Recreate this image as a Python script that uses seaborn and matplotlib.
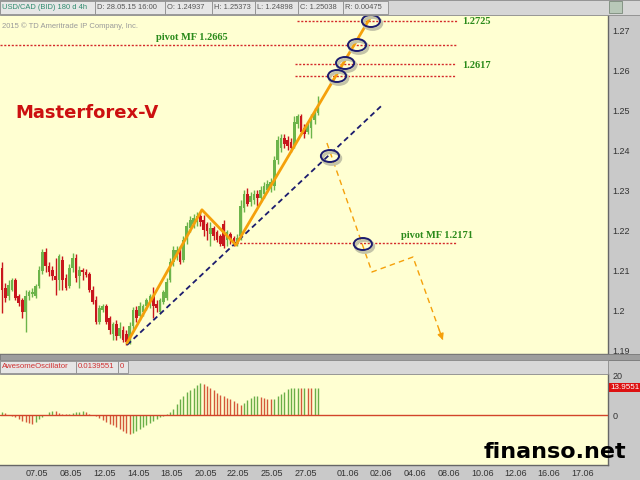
import matplotlib
matplotlib.use("Agg")
import matplotlib.pyplot as plt
import matplotlib.transforms as mtransforms
from matplotlib.patches import Rectangle, Ellipse
import seaborn as sns
import numpy as np
import pandas as pd

# USD/CAD 4h candles
opens = [1.2107, 1.2057, 1.2037, 1.2052, 1.2077, 1.2037, 1.2027, 1.1997, 1.2037, 1.2042,
         1.2037, 1.2062, 1.2100, 1.2147, 1.2112, 1.2102, 1.2087, 1.2077, 1.2127, 1.2082,
         1.2062, 1.2107, 1.2132, 1.2087, 1.2102, 1.2097, 1.2092, 1.2052, 1.2027, 1.1972,
         1.2002, 1.2012, 1.1982, 1.1942, 1.1967, 1.1937, 1.1952, 1.1942, 1.1922, 1.1962,
         1.2002, 1.1987, 1.1997, 1.2012, 1.2017, 1.2037, 1.2017, 1.1997, 1.2022, 1.2032,
         1.2077, 1.2122, 1.2137, 1.2152, 1.2127, 1.2182, 1.2207, 1.2217, 1.2222, 1.2237,
         1.2227, 1.2217, 1.2192, 1.2207, 1.2197, 1.2187, 1.2217, 1.2177, 1.2192, 1.2182,
         1.2172, 1.2187, 1.2257, 1.2292, 1.2272, 1.2277, 1.2292, 1.2282, 1.2292, 1.2302,
         1.2307, 1.2312, 1.2377, 1.2407, 1.2432, 1.2427, 1.2422, 1.2412, 1.2467, 1.2487,
         1.2457, 1.2447, 1.2457, 1.2477, 1.2494]
closes = [1.2052, 1.2032, 1.2065, 1.2077, 1.2032, 1.2020, 1.1997, 1.2037, 1.2047, 1.2047,
          1.2062, 1.2102, 1.2147, 1.2112, 1.2097, 1.2087, 1.2077, 1.2137, 1.2077, 1.2057,
          1.2107, 1.2132, 1.2082, 1.2102, 1.2097, 1.2090, 1.2052, 1.2022, 1.1972, 1.2007,
          1.2012, 1.1972, 1.1952, 1.1967, 1.1937, 1.1957, 1.1927, 1.1922, 1.1962, 1.2002,
          1.1982, 1.2012, 1.2012, 1.2027, 1.2037, 1.2012, 1.2007, 1.2027, 1.2047, 1.2072,
          1.2122, 1.2152, 1.2152, 1.2122, 1.2177, 1.2212, 1.2227, 1.2232, 1.2237, 1.2222,
          1.2202, 1.2200, 1.2207, 1.2187, 1.2177, 1.2167, 1.2162, 1.2197, 1.2177, 1.2167,
          1.2182, 1.2262, 1.2292, 1.2267, 1.2287, 1.2292, 1.2282, 1.2302, 1.2312, 1.2317,
          1.2322, 1.2377, 1.2427, 1.2432, 1.2417, 1.2412, 1.2407, 1.2472, 1.2487, 1.2447,
          1.2442, 1.2462, 1.2482, 1.2494, 1.2504]
highs = [1.2122, 1.2070, 1.2077, 1.2082, 1.2082, 1.2042, 1.2032, 1.2052, 1.2052, 1.2057,
         1.2067, 1.2112, 1.2155, 1.2157, 1.2122, 1.2112, 1.2132, 1.2142, 1.2137, 1.2092,
         1.2117, 1.2145, 1.2142, 1.2112, 1.2107, 1.2105, 1.2097, 1.2062, 1.2037, 1.2015,
         1.2017, 1.2017, 1.1987, 1.1972, 1.1977, 1.1972, 1.1962, 1.1952, 1.1972, 1.2010,
         1.2012, 1.2022, 1.2017, 1.2032, 1.2042, 1.2060, 1.2027, 1.2032, 1.2052, 1.2082,
         1.2132, 1.2162, 1.2162, 1.2162, 1.2187, 1.2222, 1.2237, 1.2242, 1.2247, 1.2247,
         1.2240, 1.2222, 1.2222, 1.2212, 1.2202, 1.2192, 1.2227, 1.2202, 1.2197, 1.2187,
         1.2192, 1.2277, 1.2302, 1.2307, 1.2297, 1.2302, 1.2302, 1.2312, 1.2322, 1.2327,
         1.2332, 1.2387, 1.2437, 1.2442, 1.2442, 1.2437, 1.2432, 1.2487, 1.2492, 1.2492,
         1.2467, 1.2472, 1.2492, 1.2507, 1.2537]
lows = [1.1995, 1.2022, 1.2027, 1.2050, 1.2027, 1.2012, 1.1982, 1.1947, 1.2027, 1.2035,
        1.2032, 1.2057, 1.2092, 1.2097, 1.2087, 1.2077, 1.2040, 1.2052, 1.2052, 1.2052,
        1.2057, 1.2097, 1.2072, 1.2057, 1.2077, 1.2085, 1.2047, 1.2017, 1.1967, 1.1967,
        1.1997, 1.1967, 1.1942, 1.1927, 1.1927, 1.1932, 1.1922, 1.1915, 1.1917, 1.1952,
        1.1972, 1.1977, 1.1987, 1.2002, 1.2007, 1.1982, 1.1997, 1.1992, 1.2017, 1.2027,
        1.2072, 1.2112, 1.2127, 1.2117, 1.2122, 1.2167, 1.2197, 1.2207, 1.2212, 1.2212,
        1.2187, 1.2177, 1.2162, 1.2177, 1.2172, 1.2162, 1.2157, 1.2162, 1.2167, 1.2162,
        1.2162, 1.2177, 1.2247, 1.2262, 1.2262, 1.2267, 1.2262, 1.2272, 1.2282, 1.2297,
        1.2297, 1.2302, 1.2367, 1.2397, 1.2407, 1.2402, 1.2397, 1.2407, 1.2457, 1.2442,
        1.2432, 1.2442, 1.2432, 1.2467, 1.2490]

# Awesome Oscillator (x1000)
ao = [1.5, 1.0, 0.2, -0.5, -1.2, -2.0, -3.0, -3.5, -4.2, -4.5,
      -3.5, -2.2, -1.0, 0.3, 1.5, 2.3, 2.0, 1.2, 0.8, 0.6,
      0.8, 1.0, 1.4, 1.8, 2.2, 1.8, 0.8, 0.2, -0.5, -1.5,
      -2.5, -3.4, -4.3, -5.2, -6.1, -7.0, -8.0, -9.0, -9.7, -9.2,
      -8.3, -7.3, -6.2, -5.2, -4.2, -3.2, -2.2, -1.2, -0.4, 0.5,
      1.5, 3.0, 5.5, 8.0, 10.0, 11.8, 13.0, 14.0, 15.2, 16.3,
      16.0, 15.0, 13.8, 12.6, 11.5, 10.5, 9.6, 8.8, 8.0, 7.0,
      6.0, 5.3, 6.3, 7.6, 8.8, 9.7, 10.0, 9.0, 8.6, 8.3,
      8.1, 8.4, 9.6, 10.8, 12.0, 13.2, 13.9, 14.1, 14.1, 14.0,
      14.0, 13.9, 13.8, 13.9, 13.9551]
ao_last = '13.9551'

date_labels = ['07.05', '08.05', '12.05', '14.05', '18.05', '20.05', '22.05', '25.05', '27.05',
               '01.06', '02.06', '04.06', '08.06', '10.06', '12.06', '16.06', '17.06']
date_pos = [10.4, 20.5, 30.4, 40.5, 50.6, 60.7, 70.2, 80.4, 90.5,
            103.0, 112.8, 122.9, 133.0, 142.9, 153.0, 162.8, 172.9]

price_ticks = [1.27, 1.26, 1.25, 1.24, 1.23, 1.22, 1.21, 1.20, 1.19]
price_labels = ['1.27', '1.26', '1.25', '1.24', '1.23', '1.22', '1.21', '1.2', '1.19']

# hand drawn analysis
zigzag_x = [37.2, 59.5, 69.6, 111.6]
zigzag_y = [1.1920, 1.2253, 1.2165, 1.2762]
trend_x = [37.2, 112.8]
trend_y = [1.1915, 1.2512]
proj_x = [96.7, 110.1, 122.3, 131.2]
proj_y = [1.2420, 1.20975, 1.2135, 1.19275]
pivot_levels = [1.2725, 1.2665, 1.2617, 1.2587, 1.2171]
circle_x = [109.8, 105.65, 102.1, 99.7, 97.6, 107.4]
circle_y = [1.2725, 1.2665, 1.2620, 1.25875, 1.23875, 1.21675]

header_texts = ['USD/CAD (BID) 180 d 4h', 'D: 28.05.15 16:00', 'O: 1.24937', 'H: 1.25373',
                'L: 1.24898', 'C: 1.25038', 'R: 0.00475']
osc_texts = ['AwesomeOscillator', '0.0139551', '0']

sns.set_style("white")
plt.rcParams['font.family'] = ['Liberation Sans', 'DejaVu Sans']

W, H = 640, 480
bg = '#ffffd2'
orange = '#f5a00a'
navy = '#1c1c6e'
dotred = '#d42a2a'
green_txt = '#2a8a1a'

fig = plt.figure(figsize=(6.4, 4.8), dpi=100, facecolor='#c9c9c9')


def fx(px):
    return px / W


def fy(py):
    return 1 - py / H


def box(x0, y0, x1, y1, fc, ec='none', lw=0.6, z=5):
    fig.add_artist(Rectangle((fx(x0), fy(y1)), (x1 - x0) / W, (y1 - y0) / H,
                             transform=fig.transFigure, fc=fc, ec=ec, lw=lw, zorder=z))


ax = fig.add_axes([0, fy(354), fx(608), (354 - 14) / H], facecolor=bg)
ax2 = fig.add_axes([0, fy(465), fx(608), (465 - 374) / H], facecolor=bg, sharex=ax)

# candles
df = pd.DataFrame({'x': np.arange(len(opens)), 'open': opens, 'high': highs,
                   'low': lows, 'close': closes})
up = df['close'] >= df['open']
ccol = np.where(up, '#6cb44a', '#c8161d')
ax.vlines(df['x'], df['low'], df['high'], colors=ccol, lw=1.0, zorder=2)
body_lo = df[['open', 'close']].min(axis=1)
body_h = (df['close'] - df['open']).abs().clip(lower=0.00014)
ax.bar(df['x'], body_h, bottom=body_lo, width=0.8, color=ccol, lw=0, zorder=3)

# pivot levels
dots = (0, (1.5, 1.2))
ax.hlines(pivot_levels[0], 87.8, 135.4, colors=dotred, lw=1, linestyles=dots, zorder=2)
ax.hlines(pivot_levels[1], -0.6, 135.4, colors=dotred, lw=1, linestyles=dots, zorder=2)
ax.hlines(pivot_levels[2], 87.2, 134.8, colors=dotred, lw=1, linestyles=dots, zorder=2)
ax.hlines(pivot_levels[3], 87.2, 134.8, colors=dotred, lw=1, linestyles=dots, zorder=2)
ax.hlines(pivot_levels[4], 69.6, 135.4, colors=dotred, lw=1, linestyles=dots, zorder=2)

serif = ['Liberation Serif', 'DejaVu Serif']
ax.text(56.4, 1.26825, 'pivot MF 1.2665', ha='center', va='center', color=green_txt,
        fontsize=7.5, fontweight='bold', family=serif)
ax.text(136.9, 1.2725, '1.2725', ha='left', va='center', color=green_txt,
        fontsize=7.5, fontweight='bold', family=serif)
ax.text(136.9, 1.2615, '1.2617', ha='left', va='center', color=green_txt,
        fontsize=7.5, fontweight='bold', family=serif)
ax.text(129.5, 1.21875, 'pivot MF 1.2171', ha='center', va='center', color=green_txt,
        fontsize=7.5, fontweight='bold', family=serif)

# trend line and zigzag
sns.lineplot(x=trend_x, y=trend_y, ax=ax, color=navy, lw=1.3, linestyle=(0, (3, 2)), zorder=4)
sns.lineplot(x=zigzag_x[:3], y=zigzag_y[:3], ax=ax, color=orange, lw=2, sort=False, zorder=4)
ax.annotate('', xy=(zigzag_x[3], zigzag_y[3]), xytext=(zigzag_x[2], zigzag_y[2]),
            arrowprops=dict(arrowstyle='-|>', color=orange, lw=2, mutation_scale=11,
                            shrinkA=0, shrinkB=0),
            annotation_clip=False, zorder=4)

# projected path
sns.lineplot(x=proj_x, y=proj_y, ax=ax, color=orange, lw=1, linestyle=(0, (4, 3)), sort=False, zorder=4)
ax.annotate('', xy=(proj_x[3], proj_y[3]),
            xytext=(proj_x[3] - 0.12 * (proj_x[3] - proj_x[2]), proj_y[3] - 0.12 * (proj_y[3] - proj_y[2])),
            arrowprops=dict(arrowstyle='-|>', color=orange, lw=1, mutation_scale=9,
                            shrinkA=0, shrinkB=0), zorder=4)

# marker ellipses
for cx, cy in zip(circle_x, circle_y):
    ax.add_patch(Ellipse((cx + 0.5, cy - 0.0006), 5.4, 0.0030, fill=False,
                         ec='#c4c4a8', lw=2.2, zorder=5))
    ax.add_patch(Ellipse((cx, cy), 5.4, 0.0030, fill=False, ec=navy, lw=1.4, zorder=6))

ax.set_xlim(-0.6, 180.35)
ax.set_ylim(1.18925, 1.27425)
ax.set_xlabel('')
ax.set_ylabel('')
ax.yaxis.tick_right()
ax.set_yticks(price_ticks)
ax.set_yticklabels(price_labels)
ax.tick_params(axis='y', length=0, pad=3, labelsize=6.5, labelcolor='#333333')
ax.tick_params(axis='x', length=0, labelbottom=False)
for s in ['left', 'top']:
    ax.spines[s].set_visible(False)
for s in ['right', 'bottom']:
    ax.spines[s].set_color('#666666')
    ax.spines[s].set_linewidth(1)

# oscillator
ao_s = pd.Series(ao)
rising = ao_s.diff().fillna(0) >= 0
acol = np.where(rising, '#6aae48', '#d4583a')
ax2.vlines(np.arange(len(ao)), 0, ao_s, colors=acol, lw=1.0, zorder=2)
ax2.axhline(0, color='#d2452a', lw=1, zorder=3)
ax2.set_ylim(-25.5, 21)
ax2.yaxis.tick_right()
ax2.set_yticks([20, 0])
ax2.set_yticklabels(['20', '0'])
ax2.set_xticks(date_pos)
ax2.set_xticklabels(date_labels)
ax2.tick_params(axis='both', length=0, pad=3, labelsize=6.5, labelcolor='#333333')
for s in ['left', 'top']:
    ax2.spines[s].set_visible(False)
for s in ['right', 'bottom']:
    ax2.spines[s].set_color('#666666')
    ax2.spines[s].set_linewidth(1)
blend = mtransforms.blended_transform_factory(ax2.transAxes, ax2.transData)
ax2.text(1.004, ao[-1], ao_last, transform=blend, color='white', fontsize=5.8,
         va='center', ha='left', clip_on=False,
         bbox=dict(boxstyle='square,pad=0.12', fc='#dd1111', ec='none'))

# header bar
box(0, 0, 640, 15, '#d6d6d6', ec='#8a8a8a')
edges = [0, 95, 165, 212, 255, 298, 343, 388]
for i, t in enumerate(header_texts):
    box(edges[i], 1, edges[i + 1], 14, '#e6e6e6', ec='#8e8e8e')
    fig.text(fx(edges[i] + 2), fy(7.5), t, fontsize=5.4, va='center', ha='left',
             color='#2e8b6e' if i == 0 else '#555555', zorder=6)
box(609, 1, 622, 13, '#b8c8b8', ec='#7a8a7a')

# separator and oscillator header
box(0, 354, 640, 360, '#9e9e9e', ec='#777777')
box(0, 360, 608, 374, '#d8d8d8', ec='#8a8a8a')
osc_edges = [0, 76, 118, 128]
for i, t in enumerate(osc_texts):
    box(osc_edges[i], 361, osc_edges[i + 1], 373, '#e6e6e6', ec='#8e8e8e')
    fig.text(fx(osc_edges[i] + 2), fy(367), t, fontsize=5.6, va='center', ha='left',
             color='#d03030', zorder=6)

fig.text(fx(2), fy(26), '2015 \u00a9 TD Ameritrade IP Company, Inc.', fontsize=5.5,
         color='#9a9a9a', va='center', ha='left')
fig.text(fx(15), fy(113), 'Masterforex-V', color='#cc1010', fontsize=13,
         fontweight='bold', family='DejaVu Sans', va='center', ha='left')
fig.text(fx(555), fy(452), 'finanso.net', color='black', fontsize=16,
         fontweight='bold', family='DejaVu Sans', va='center', ha='center', zorder=10)

fig.savefig('out.png', dpi=100, facecolor=fig.get_facecolor())
